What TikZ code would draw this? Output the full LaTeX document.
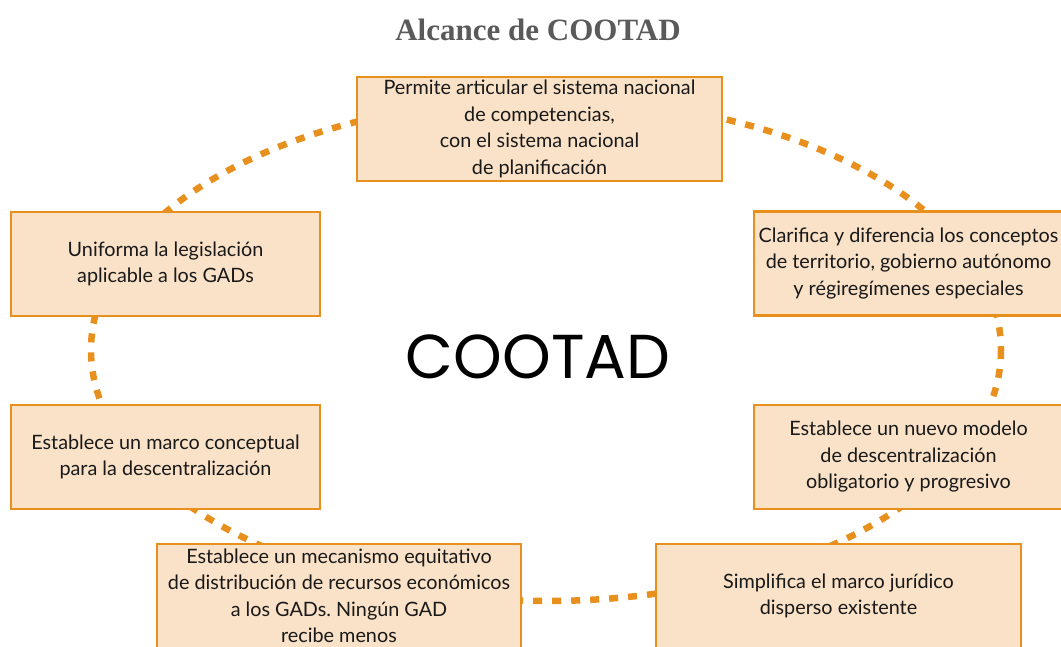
\documentclass[tikz,border=0pt]{standalone}
\usepackage{fontspec}
\setmainfont{Lato}
\newfontfamily\titlefont{Liberation Serif}
\newfontfamily\bigfont{Poppins}
\definecolor{naranja}{RGB}{232,144,30}
\definecolor{crema}{RGB}{250,226,200}
\definecolor{gris}{RGB}{90,90,90}

\tikzset{
	caja/.style={draw=naranja, line width=2.6pt, fill=crema, rectangle, minimum height=104pt, align=center, text=black!90, font=\fontsize{19.8}{26.5}\selectfont},
	anillo/.style={draw=naranja, line width=6.5pt, dash pattern=on 9pt off 10pt}
}

\begin{document}
\frenchspacing
\begin{tikzpicture}[x=1pt, y=-1pt]
		\clip (0,0) rectangle (1061,646);

		\draw[anillo] (546,350) ellipse [x radius=455, y radius=251];

		\draw (538,40)		node[anchor=base, text=gris, font=\titlefont\bfseries\fontsize{31}{36}\selectfont] (titulo) {Alcance de COOTAD};
		\draw (538,378)		node[anchor=base, font=\bigfont\fontsize{62}{70}\selectfont] (cootad) {COOTAD};

		\draw (539.5,129)	node[caja, minimum width=365pt] (articular) 	{Permite articular el sistema nacional\\de competencias,\\con el sistema nacional\\de planificación};
		\draw (908.5,263.5)	node[caja, minimum width=309pt] (clarifica) 	{Clarifica y diferencia los conceptos\\de territorio, gobierno autónomo\\y régiregímenes especiales};
		\draw (908.5,457)	node[caja, minimum width=309pt] (modelo) 		{Establece un nuevo modelo\\de descentralización\\obligatorio y progresivo};
		\draw (838.5,596)	node[caja, minimum width=365pt] (simplifica) 	{Simplifica el marco jurídico\\disperso existente};
		\draw (339,596)		node[caja, minimum width=364pt] (mecanismo) 	{Establece un mecanismo equitativo\\de distribución de recursos económicos\\a los GADs. Ningún GAD\\recibe menos};
		\draw (165.5,457)	node[caja, minimum width=309pt] (marco) 		{Establece un marco conceptual\\para la descentralización};
		\draw (165.5,264)	node[caja, minimum width=309pt] (uniforma) 		{Uniforma la legislación\\aplicable a los GADs};
	\end{tikzpicture}
\end{document}
